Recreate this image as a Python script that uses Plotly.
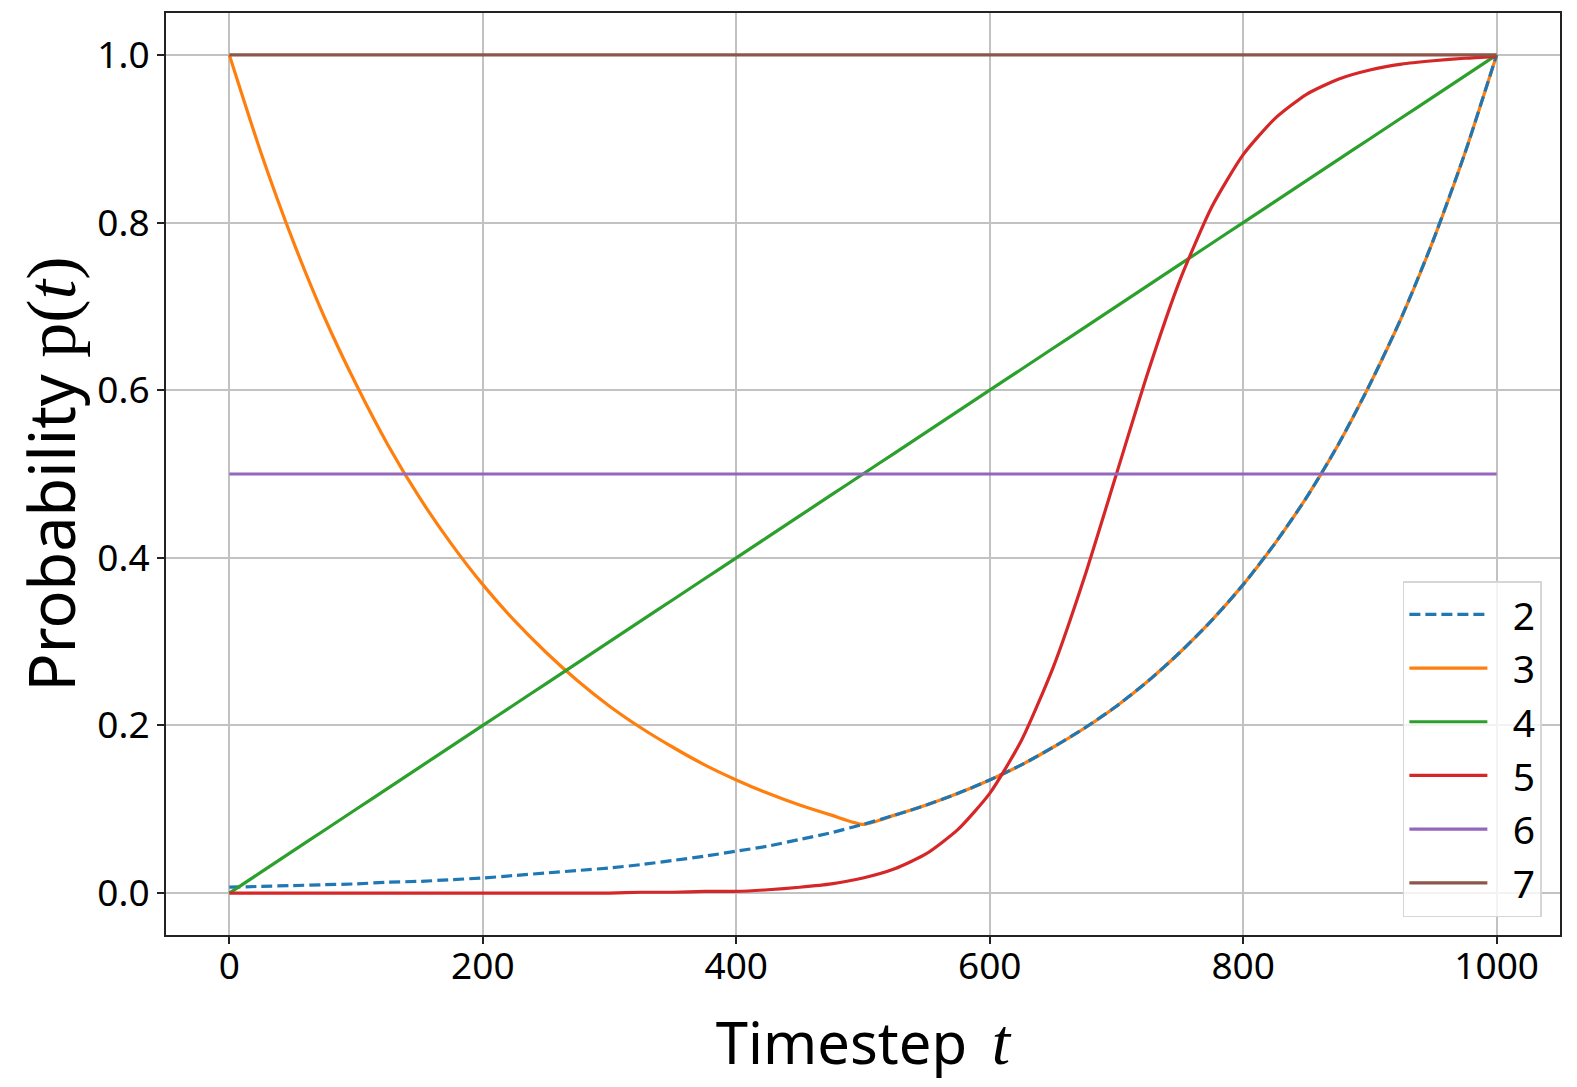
import plotly.graph_objects as go

# Timesteps sampled every 25
timesteps = [0, 25, 50, 75, 100, 125, 150, 175, 200, 225, 250, 275, 300, 325, 350, 375,
             400, 425, 450, 475, 500, 525, 550, 575, 600, 625, 650, 675, 700, 725, 750,
             775, 800, 825, 850, 875, 900, 925, 950, 975, 1000]

series_2 = [0.007, 0.008, 0.009, 0.010, 0.011, 0.013, 0.014, 0.016, 0.018, 0.021, 0.024,
            0.027, 0.030, 0.034, 0.039, 0.044, 0.050, 0.056, 0.064, 0.072, 0.082,
            0.093, 0.105, 0.119, 0.135, 0.153, 0.174, 0.197, 0.223, 0.253, 0.287,
            0.325, 0.368, 0.417, 0.472, 0.535, 0.607, 0.687, 0.779, 0.883, 1.000]
series_3 = [1.000, 0.883, 0.779, 0.687, 0.607, 0.535, 0.472, 0.417, 0.368, 0.325, 0.287,
            0.253, 0.223, 0.197, 0.174, 0.153, 0.135, 0.119, 0.105, 0.093, 0.082,
            0.093, 0.105, 0.119, 0.135, 0.153, 0.174, 0.197, 0.223, 0.253, 0.287,
            0.325, 0.368, 0.417, 0.472, 0.535, 0.607, 0.687, 0.779, 0.883, 1.000]
series_4 = [0.000, 0.025, 0.050, 0.075, 0.100, 0.125, 0.150, 0.175, 0.200, 0.225, 0.250,
            0.275, 0.300, 0.325, 0.350, 0.375, 0.400, 0.425, 0.450, 0.475, 0.500,
            0.525, 0.550, 0.575, 0.600, 0.625, 0.650, 0.675, 0.700, 0.725, 0.750,
            0.775, 0.800, 0.825, 0.850, 0.875, 0.900, 0.925, 0.950, 0.975, 1.000]
series_5 = [0.000, 0.000, 0.000, 0.000, 0.000, 0.000, 0.000, 0.000, 0.000, 0.000, 0.000,
            0.000, 0.000, 0.001, 0.001, 0.002, 0.002, 0.004, 0.007, 0.011, 0.018,
            0.029, 0.047, 0.076, 0.119, 0.182, 0.269, 0.378, 0.500, 0.622, 0.731,
            0.818, 0.881, 0.924, 0.953, 0.971, 0.982, 0.989, 0.993, 0.996, 0.998]
series_6 = [0.5] * len(timesteps)
series_7 = [1.0] * len(timesteps)

names = ["2", "3", "4", "5", "6", "7"]
colors = ["#1f77b4", "#ff7f0e", "#2ca02c", "#d62728", "#9467bd", "#8c564b"]

x_ticks = [0, 200, 400, 600, 800, 1000]
y_ticks = [0.0, 0.2, 0.4, 0.6, 0.8, 1.0]

NBSP = "\u00a0"

fig = go.Figure()
# draw order: orange first so the dashed blue sits on top of it
draw = [
    (1, series_3, "solid"),
    (0, series_2, "11px,5px"),
    (2, series_4, "solid"),
    (3, series_5, "solid"),
    (4, series_6, "solid"),
    (5, series_7, "solid"),
]
for idx, ys, dash in draw:
    fig.add_trace(go.Scatter(
        x=timesteps, y=ys, mode="lines", name=NBSP * 2 + names[idx],
        legendrank=idx + 1,
        line=dict(color=colors[idx], width=3.2, dash=dash, shape="spline", smoothing=0.6),
    ))

FONT = "Noto Sans, Open Sans, sans-serif"
SERIF = "Liberation Serif"

# page body has an 8px margin, so the figure is sized to fit the window
fig.update_layout(
    width=1569, height=1079,
    margin=dict(l=158, r=17, t=5, b=152, autoexpand=False),
    paper_bgcolor="white", plot_bgcolor="white",
    font=dict(family=FONT, color="black", size=36),
    showlegend=True,
    legend=dict(
        x=0.987, y=0.0195, xanchor="right", yanchor="bottom",
        bgcolor="rgba(255,255,255,0.8)", bordercolor="#d6d6d6", borderwidth=1.5,
        font=dict(size=39, family=FONT),
        itemwidth=78, tracegroupgap=0,
        traceorder="normal",
    ),
)
GRID = "#c2c2c2"
fig.update_xaxes(
    range=[-50, 1050], tickvals=x_ticks, ticktext=[str(v) for v in x_ticks],
    showgrid=True, gridcolor=GRID, gridwidth=2, zeroline=False,
    showline=True, linecolor="#222222", linewidth=2, mirror=True,
    ticks="outside", ticklen=7, tickwidth=1.5, tickcolor="#222222",
    tickfont=dict(size=37, family=FONT), automargin=False, ticklabelstandoff=-9,
    title=dict(text="Timestep" + NBSP + "\u2009<span style=\"font-family:" + SERIF
               + ";font-size:66px\"><i>t</i></span>",
               font=dict(size=58, family=FONT), standoff=34),
)
fig.update_yaxes(
    range=[-0.05, 1.05], tickvals=y_ticks, ticktext=[f"{v:.1f}" for v in y_ticks],
    showgrid=True, gridcolor=GRID, gridwidth=2, zeroline=False,
    showline=True, linecolor="#222222", linewidth=2, mirror=True,
    ticks="outside", ticklen=7, tickwidth=1.5, tickcolor="#222222",
    tickfont=dict(size=37, family=FONT), automargin=False,
    title=dict(text="Probability <span style=\"font-family:" + SERIF
               + ";font-size:70px\">p(<i>t</i>)</span>",
               font=dict(size=63, family=FONT), standoff=16),
)

fig.write_html("out.html")
